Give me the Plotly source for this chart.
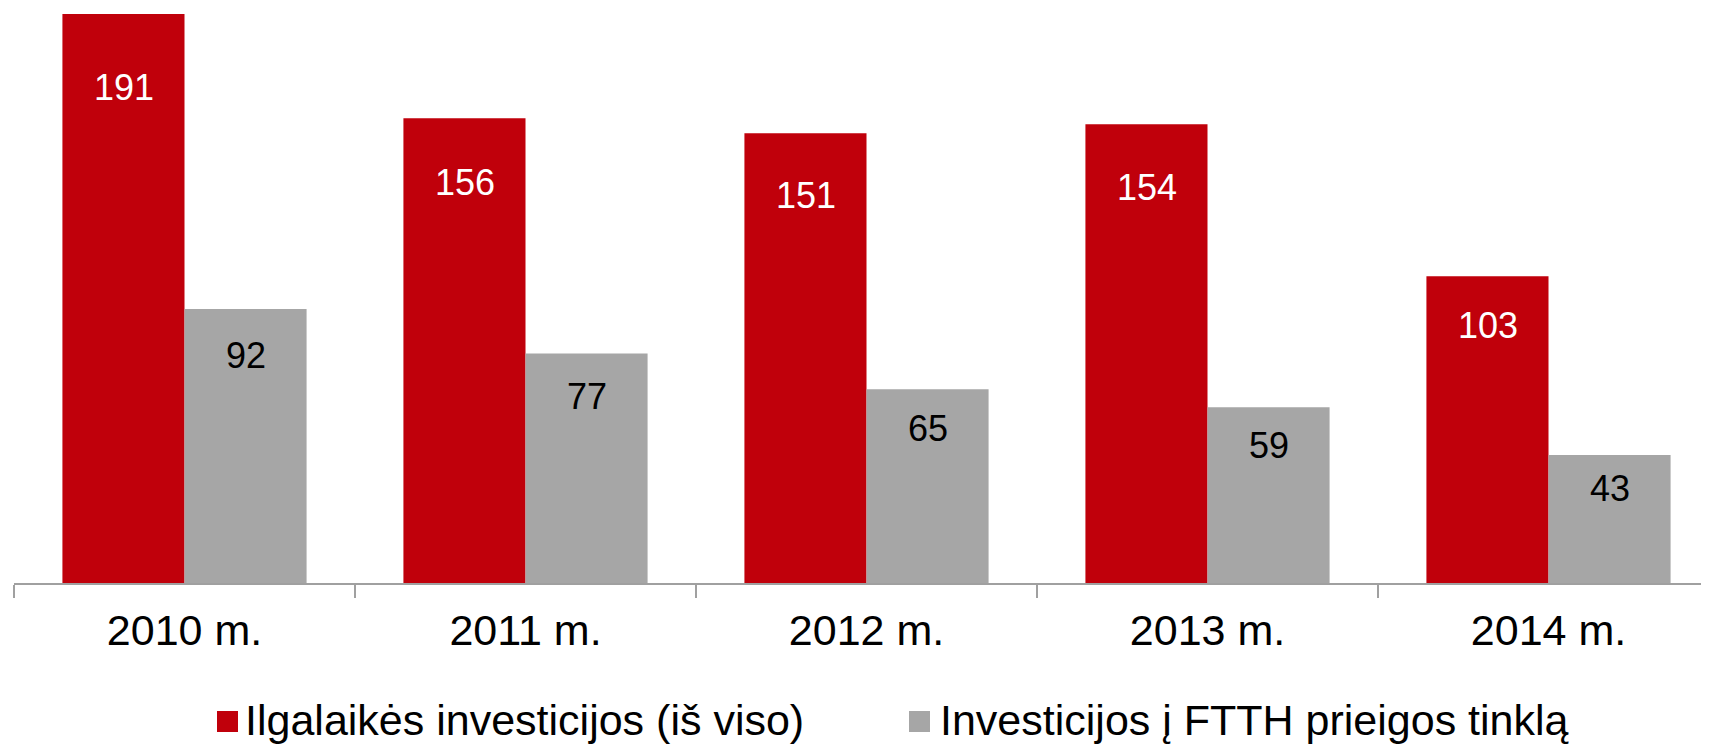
import plotly.graph_objects as go

categories = ["2010 m.", "2011 m.", "2012 m.", "2013 m.", "2014 m."]
series_names = ["Ilgalaikės investicijos (iš viso)", "Investicijos į FTTH prieigos tinklą"]
total_invest = [191, 156, 151, 154, 103]
ftth_invest = [92, 77, 65, 59, 43]

RED = "#C0000B"
GRAY = "#A6A6A6"
FONT = "Liberation Sans, Arial, sans-serif"

# page has an 8px body margin; figure coordinates are page - 8
FIG_W, FIG_H = 1701, 736
ML, MT = 6, 0
PLOT_H = 575.0
PLOT_W = FIG_W - ML
CAT_PX = 341.0
PX_PER_UNIT = 569.0 / 191.0

fig = go.Figure()
fig.add_trace(go.Bar(x=categories, y=total_invest, name=series_names[0],
                     marker=dict(color=RED, line=dict(width=0)), showlegend=False,
                     hoverinfo="x+y"))
fig.add_trace(go.Bar(x=categories, y=ftth_invest, name=series_names[1],
                     marker=dict(color=GRAY, line=dict(width=0)), showlegend=False,
                     hoverinfo="x+y"))

# data labels inside bars, near the top
annotations = []
for vals, shift, col in [(total_invest, -61, "white"), (ftth_invest, 61, "black")]:
    for c, v in zip(categories, vals):
        annotations.append(dict(x=c, y=v - (7.4 + 0.09 * v), xref="x", yref="y",
                                text=str(v), showarrow=False, xshift=shift,
                                font=dict(family=FONT, size=36, color=col)))

# custom legend (page pixel positions converted to paper coords)
def py(p):
    return (PLOT_H - (p - 8)) / PLOT_H

def px(p):
    return ((p - 8) - ML) / PLOT_W

shapes = []
legend_items = [(series_names[0], RED, 217, 243), (series_names[1], GRAY, 909, 938)]
for name, col, sx, tx in legend_items:
    shapes.append(dict(type="rect", xref="paper", yref="paper",
                       x0=px(sx), x1=px(sx + 21), y0=py(732), y1=py(711),
                       fillcolor=col, line=dict(width=0)))
    annotations.append(dict(x=px(tx), y=py(720), xref="paper", yref="paper",
                            text=name, showarrow=False, xanchor="left", yanchor="middle",
                            font=dict(family=FONT, size=43, color="black")))

fig.update_layout(
    width=FIG_W, height=FIG_H,
    margin=dict(l=ML, r=0, t=MT, b=FIG_H - PLOT_H, pad=0),
    paper_bgcolor="white", plot_bgcolor="white",
    barmode="group", bargap=0.284, bargroupgap=0,
    showlegend=False,
    annotations=annotations, shapes=shapes,
    font=dict(family=FONT),
)
fig.update_xaxes(range=[-0.5, -0.5 + PLOT_W / CAT_PX], showline=True, linecolor="#A0A0A0", linewidth=2,
                 ticks="outside", tickson="boundaries", ticklen=13, tickwidth=2, tickcolor="#A0A0A0",
                 ticklabelstandoff=8,
                 tickfont=dict(family=FONT, size=43, color="black"), showgrid=False, zeroline=False)
fig.update_yaxes(range=[0, PLOT_H / PX_PER_UNIT], visible=False, showgrid=False, zeroline=False)

fig.write_html("out.html")
